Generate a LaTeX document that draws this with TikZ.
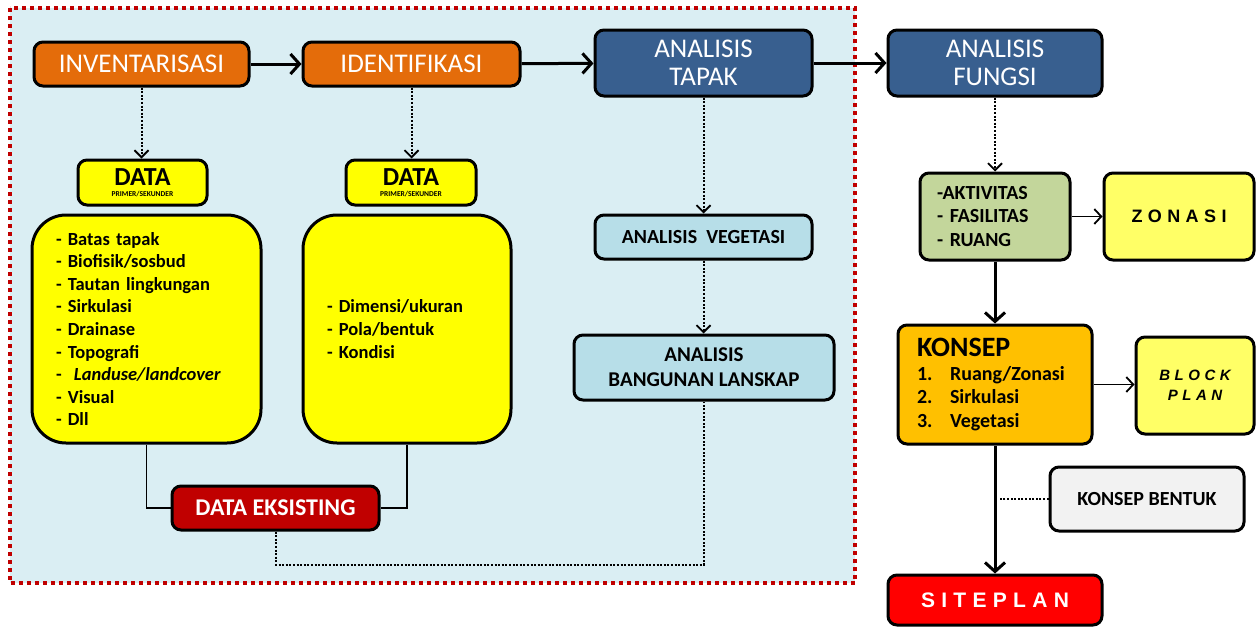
\documentclass[tikz,border=0pt]{standalone}
\usepackage{fontspec}
\setmainfont{Carlito}
\newfontfamily\widefont[LetterSpace=30]{Liberation Sans}
\usetikzlibrary{arrows.meta}

\definecolor{framefill}{HTML}{DAEEF3}
\definecolor{framered}{HTML}{C00000}
\definecolor{orangebox}{HTML}{E46C0A}
\definecolor{bluebox}{HTML}{385F8F}
\definecolor{yellowbox}{HTML}{FFFF00}
\definecolor{cyanbox}{HTML}{B7DEE8}
\definecolor{darkred}{HTML}{C00000}
\definecolor{greenbox}{HTML}{C3D69B}
\definecolor{paleyellow}{HTML}{FFFF66}
\definecolor{goldbox}{HTML}{FFC000}
\definecolor{greybox}{HTML}{F2F2F2}
\definecolor{redbox}{HTML}{FF0000}

\begin{document}
\begin{tikzpicture}[x=1pt,y=-1pt,
    box/.style={draw=black, line width=3pt, rounded corners=9pt, inner sep=0pt, align=center},
    title/.style={box, text=white, font=\fontsize{27}{28}\selectfont},
    listbox/.style={box, fill=yellowbox, rounded corners=34pt, inner xsep=24pt, align=left,
        font=\bfseries\fontsize{18.5}{22.6}\selectfont},
    thickarrow/.style={line width=3pt, -{Straight Barb[length=9pt, width=20pt]}},
    thinarrow/.style={line width=1.8pt, -{Straight Barb[length=7pt, width=15pt]}},
    dotarrow/.style={line width=2pt, dash pattern=on 2pt off 1.6pt, -{Straight Barb[length=7pt, width=14pt, line width=1.8pt]}},
    dotline/.style={line width=2pt, dash pattern=on 2pt off 1.6pt},
    joinline/.style={line width=1.6pt}]

    \useasboundingbox (0,0) rectangle (1257,627);

    \draw[draw=framered, fill=framefill, line width=4pt, dash pattern=on 4pt off 4pt] (10,8) rectangle (855,583);

    \node[title, fill=orangebox, minimum width=215, minimum height=44] (Inv) at (141.5,64) {INVENTARISASI};
    \node[title, fill=orangebox, minimum width=217, minimum height=44] (Ide) at (411.5,64) {IDENTIFIKASI};
    \node[title, fill=bluebox, minimum width=217, minimum height=66] (Tap) at (703.5,63) {ANALISIS\\TAPAK};
    \node[title, fill=bluebox, minimum width=214, minimum height=66] (Fun) at (995,63) {ANALISIS\\FUNGSI};

    \node[box, fill=yellowbox, minimum width=129, minimum height=45] (Dat1) at (142.5,182.5)
        {\bfseries\fontsize{26}{26}\selectfont DATA\\[-1pt]\bfseries\fontsize{7.5}{7.5}\selectfont PRIMER/SEKUNDER};
    \node[box, fill=yellowbox, minimum width=130, minimum height=45] (Dat2) at (411,182.5)
        {\bfseries\fontsize{26}{26}\selectfont DATA\\[-1pt]\bfseries\fontsize{7.5}{7.5}\selectfont PRIMER/SEKUNDER};

    \node[listbox, text width=181, minimum height=228] (Lst1) at (146.5,329)
        {- Batas tapak\\- Biofisik/sosbud\\- Tautan lingkungan\\- Sirkulasi\\- Drainase\\- Topografi\\
         -~ \textit{Landuse/landcover}\\- Visual\\- Dll};
    \node[listbox, text width=160, minimum height=228] (Lst2) at (407,329)
        {- Dimensi/ukuran\\- Pola/bentuk\\- Kondisi};

    \node[box, fill=darkred, text=white, minimum width=207, minimum height=44,
        font=\bfseries\fontsize{24}{24}\selectfont] (Eks) at (275.5,508) {DATA EKSISTING};

    \node[box, fill=cyanbox, minimum width=217, minimum height=44,
        font=\bfseries\fontsize{20}{20}\selectfont] (Veg) at (703.5,237) {ANALISIS~~VEGETASI};
    \node[box, fill=cyanbox, minimum width=260, minimum height=65,
        font=\bfseries\fontsize{21}{25}\selectfont] (Ban) at (704,367.5) {ANALISIS\\BANGUNAN LANSKAP};

    \node[box, fill=greenbox, minimum height=87, inner xsep=17pt, text width=116, align=left,
        font=\bfseries\fontsize{20}{23.5}\selectfont] (Akt) at (995,216.5) {-AKTIVITAS\\- FASILITAS\\- RUANG};
    \node[box, fill=paleyellow, minimum width=150, minimum height=87,
        font=\widefont\bfseries\fontsize{18}{18}\selectfont] (Zon) at (1179,216.5) {ZONASI};

    \node[box, fill=goldbox, minimum height=119, inner xsep=19pt, text width=156, align=left,
        font=\bfseries\fontsize{20}{23.5}\selectfont] (Kon) at (995,384.5)
        {{\fontsize{28}{30}\selectfont KONSEP}\\
         \makebox[33pt][l]{1.}Ruang/Zonasi\\\makebox[33pt][l]{2.}Sirkulasi\\\makebox[33pt][l]{3.}Vegetasi};
    \node[box, fill=paleyellow, minimum width=118, minimum height=97,
        font=\widefont\bfseries\itshape\fontsize{15}{20}\selectfont] (Blk) at (1195,385.5) {BLOCK\\PLAN};

    \node[box, fill=greybox, minimum width=194, minimum height=64,
        font=\bfseries\fontsize{20}{20}\selectfont] (Ben) at (1147,499) {KONSEP BENTUK};
    \node[box, fill=redbox, text=white, minimum width=214, minimum height=50,
        font=\widefont\bfseries\fontsize{21}{21}\selectfont] (Sit) at (995,600) {SITEPLAN};

    \draw[thickarrow] (Inv) -- (Ide);
    \draw[thickarrow] (Ide) -- (Tap);
    \draw[thickarrow] (Tap) -- (Fun);

    \draw[dotarrow] (Inv.south) -- (Inv.south |- Dat1.north);
    \draw[dotarrow] (Ide.south) -- (Ide.south |- Dat2.north);
    \draw[dotarrow] (Tap) -- (Veg);
    \draw[dotarrow] (Veg) -- (Ban.north -| Veg);
    \draw[dotarrow] (Fun) -- (Akt);

    \draw[joinline] (Lst1.south) |- (Eks.west);
    \draw[joinline] (Lst2.south) |- (Eks.east);
    \draw[dotline] (Eks.south) -- ++(0,33) -| (Ban.south);

    \draw[thinarrow] (Akt) -- (Zon);
    \draw[thickarrow] (Akt) -- (Kon);
    \draw[thinarrow] (Kon) -- (Kon -| Blk.west);
    \draw[thickarrow] (Kon) -- (Sit);

    \coordinate (KB) at (1000,499);
    \draw[dotline] (Ben) -- (KB);

\end{tikzpicture}
\end{document}
